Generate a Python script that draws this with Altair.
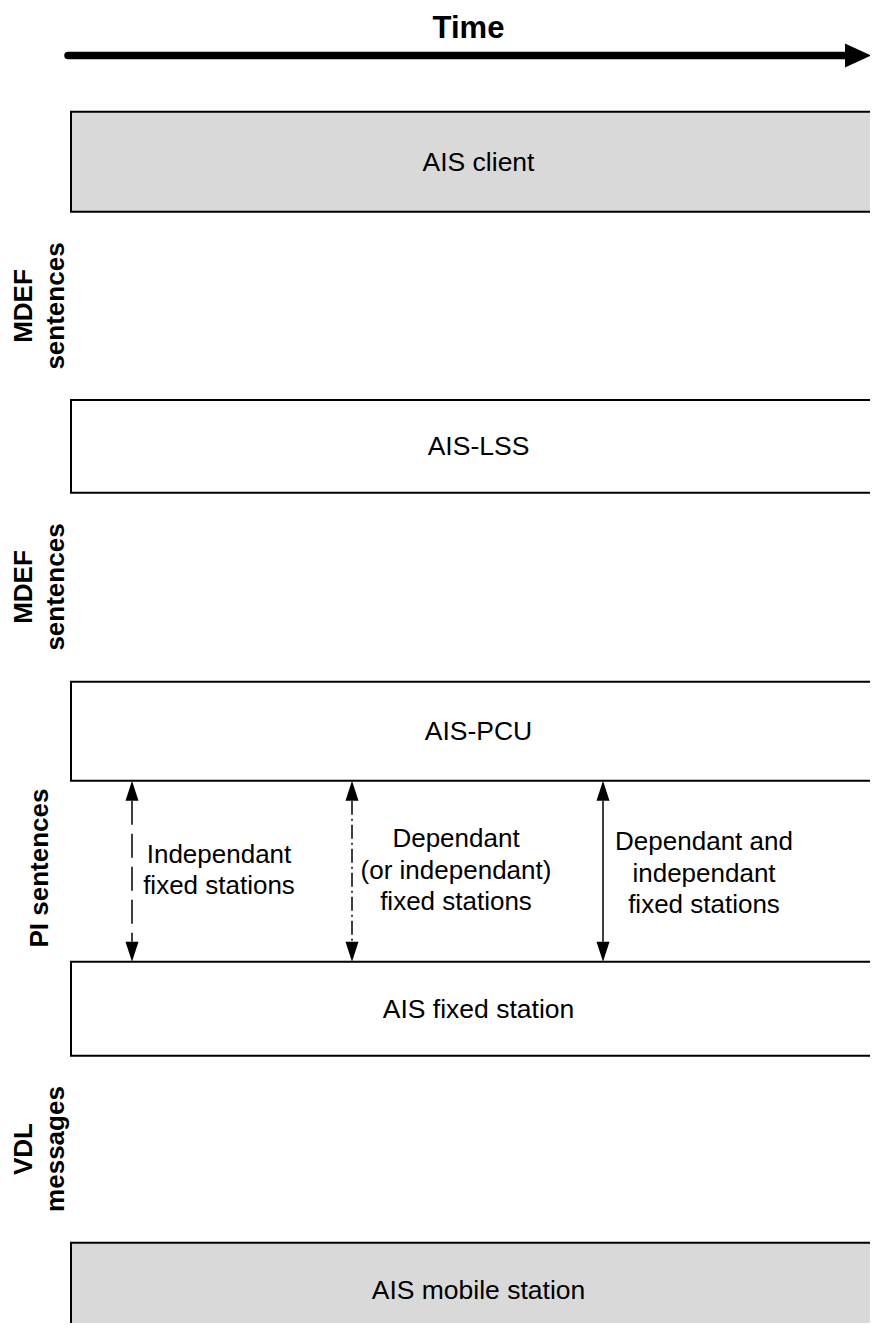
import altair as alt
import pandas as pd

# ---------------- data ----------------
box_labels = ["AIS client", "AIS-LSS", "AIS-PCU", "AIS fixed station", "AIS mobile station"]
box_top = [111.7, 400.0, 681.7, 961.7, 1242.7]
box_bottom = [211.7, 492.7, 780.7, 1055.7, 1420.0]
box_fill = ["#d9d9d9", "#ffffff", "#ffffff", "#ffffff", "#d9d9d9"]
box_label_y = [162.7, 447.4, 732.2, 1009.7, 1291.0]
box_left = 71
box_right = 886

# first-line anchors (following lines stack below / to the right)
layer_labels = ["MDEF\nsentences", "MDEF\nsentences", "PI sentences", "VDL\nmessages"]
layer_label_y = [306, 587, 868, 1149]
layer_label_x = [23.7, 23.7, 39.5, 23.7]

arrow_x = [132, 352, 603]
arrow_labels = [
    "Independant\nfixed stations",
    "Dependant\n(or independant)\nfixed stations",
    "Dependant and\nindependant\nfixed stations",
]
arrow_label_x = [219, 456, 704]
arrow_label_y = [854.7, 839.0, 842.0]
arrow_dash = [[24, 9], [14, 4, 2, 4], [1, 0]]

time_label = "Time"
time_arrow_start = 68
time_arrow_end = 846
time_arrow_y = 55.5
time_head_x = 858

# ---------------- scales ----------------
W, H = 862, 1315
xs = alt.Scale(domain=[8, 8 + W], nice=False, zero=False)
ys = alt.Scale(domain=[8, 8 + H], nice=False, zero=False, reverse=True)

FONT = "Liberation Sans"

def X(f):
    return alt.X(f, type="quantitative", scale=xs, axis=None)

def Y(f):
    return alt.Y(f, type="quantitative", scale=ys, axis=None)

boxes = pd.DataFrame({
    "label": box_labels,
    "x": [box_left] * len(box_labels),
    "x2": [box_right] * len(box_labels),
    "top": box_top,
    "bottom": box_bottom,
    "fill": box_fill,
    "ly": box_label_y,
    "lx": [(box_left + box_right) / 2] * len(box_labels),
})

rects = alt.Chart(boxes).mark_rect(stroke="black", strokeWidth=2, clip=True).encode(
    x=X("x"), x2=alt.X2("x2"), y=Y("top"), y2=alt.Y2("bottom"),
    fill=alt.Fill("fill:N", scale=None),
)

rect_text = alt.Chart(boxes).mark_text(
    font=FONT, fontSize=26.5, color="black", align="center", baseline="middle"
).encode(x=X("lx"), y=Y("ly"), text="label:N")

side = pd.DataFrame({"label": layer_labels, "y": layer_label_y, "x": layer_label_x})
side_text = alt.Chart(side).mark_text(
    font=FONT, fontSize=26, fontWeight="bold", color="black", angle=270,
    align="center", baseline="middle", lineBreak="\n", lineHeight=32,
).encode(x=X("x"), y=Y("y"), text="label:N")

# time arrow
time_df = pd.DataFrame({"x": [time_arrow_start], "x2": [time_arrow_end],
                        "y": [time_arrow_y], "hx": [time_head_x],
                        "tx": [468.5], "ty": [28.5], "label": [time_label]})
time_rule = alt.Chart(time_df).mark_rule(
    color="black", strokeWidth=7.5, strokeCap="round"
).encode(x=X("x"), x2=alt.X2("x2"), y=Y("y"))
time_head = alt.Chart(time_df).mark_point(
    shape="M1,0L-1,-0.92L-1,0.92Z", filled=True, size=676, color="black",
    opacity=1, strokeWidth=0, clip=True
).encode(x=X("hx"), y=Y("y"))
time_text = alt.Chart(time_df).mark_text(
    font=FONT, fontSize=31, fontWeight="bold", color="black", align="center", baseline="middle"
).encode(x=X("tx"), y=Y("ty"), text="label:N")

# vertical arrows between AIS-PCU and AIS fixed station
top_y = box_bottom[2]
bot_y = box_top[3]
head_len = 20
shafts = []
for ax, dash in zip(arrow_x, arrow_dash):
    d = pd.DataFrame({"x": [ax], "y": [top_y + head_len], "y2": [bot_y - head_len]})
    shafts.append(
        alt.Chart(d).mark_rule(color="black", strokeWidth=1.5, strokeDash=dash).encode(
            x=X("x"), y=Y("y"), y2=alt.Y2("y2"))
    )

heads_df = pd.DataFrame({"x": arrow_x, "yu": [top_y + head_len / 2] * 3,
                         "yd": [bot_y - head_len / 2] * 3})
up_heads = alt.Chart(heads_df).mark_point(
    shape="M0,-1L0.65,1L-0.65,1Z", filled=True, size=400, color="black", opacity=1, strokeWidth=0
).encode(x=X("x"), y=Y("yu"))
down_heads = alt.Chart(heads_df).mark_point(
    shape="M0,1L0.65,-1L-0.65,-1Z", filled=True, size=400, color="black", opacity=1, strokeWidth=0
).encode(x=X("x"), y=Y("yd"))

arrow_text_df = pd.DataFrame({"label": arrow_labels, "x": arrow_label_x, "y": arrow_label_y})
arrow_text = alt.Chart(arrow_text_df).mark_text(
    font=FONT, fontSize=26, color="black", align="center", baseline="middle",
    lineBreak="\n", lineHeight=31.5,
).encode(x=X("x"), y=Y("y"), text="label:N")

chart = alt.layer(
    rects, rect_text, side_text, time_rule, time_head, time_text,
    *shafts, up_heads, down_heads, arrow_text,
).properties(width=W, height=H, padding=0, autosize=alt.AutoSizeParams(type="none")
).configure_view(strokeWidth=0)

chart.save("out.html", embed_options={"renderer": "svg", "actions": False})
